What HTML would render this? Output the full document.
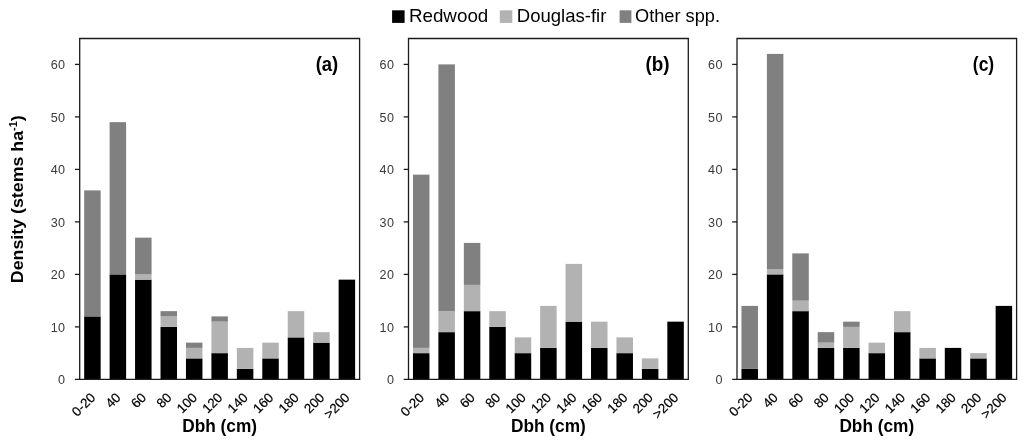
<!DOCTYPE html>
<html><head><meta charset="utf-8"><title>Density by Dbh</title>
<style>html,body{margin:0;padding:0;background:#fff}svg{display:block;will-change:transform;transform:translateZ(0)}text{font-family:"Liberation Sans",sans-serif}</style></head><body>
<svg width="1024" height="442" viewBox="0 0 1024 442">
<rect width="1024" height="442" fill="#ffffff"/>
<rect x="392.1" y="10.3" width="12.5" height="12.6" fill="#000000"/>
<text x="408.9" y="21.5" font-size="18.1" fill="#000" textLength="79.4" lengthAdjust="spacingAndGlyphs">Redwood</text>
<rect x="499.8" y="10.3" width="12.5" height="12.6" fill="#b2b2b2"/>
<text x="516.8" y="21.5" font-size="18.1" fill="#000" textLength="89.6" lengthAdjust="spacingAndGlyphs">Douglas-fir</text>
<rect x="619.6" y="10.3" width="11.8" height="12.6" fill="#808080"/>
<text x="635.0" y="21.5" font-size="18.1" fill="#000" textLength="85.0" lengthAdjust="spacingAndGlyphs">Other spp.</text>
<text transform="translate(22.7,283.2) rotate(-90)" font-size="17" font-weight="bold" fill="#000" textLength="168" lengthAdjust="spacingAndGlyphs">Density (stems ha<tspan font-size="10.5" dy="-6">-1</tspan><tspan dy="6">)</tspan></text>
<rect x="84.17" y="316.40" width="16.5" height="63.00" fill="#000000"/>
<rect x="84.17" y="190.40" width="16.5" height="126.00" fill="#808080"/>
<rect x="109.62" y="274.40" width="16.5" height="105.00" fill="#000000"/>
<rect x="109.62" y="122.15" width="16.5" height="152.25" fill="#808080"/>
<rect x="135.06" y="279.65" width="16.5" height="99.75" fill="#000000"/>
<rect x="135.06" y="274.40" width="16.5" height="5.25" fill="#b2b2b2"/>
<rect x="135.06" y="237.65" width="16.5" height="36.75" fill="#808080"/>
<rect x="160.51" y="326.90" width="16.5" height="52.50" fill="#000000"/>
<rect x="160.51" y="316.40" width="16.5" height="10.50" fill="#b2b2b2"/>
<rect x="160.51" y="311.15" width="16.5" height="5.25" fill="#808080"/>
<rect x="185.95" y="358.40" width="16.5" height="21.00" fill="#000000"/>
<rect x="185.95" y="347.90" width="16.5" height="10.50" fill="#b2b2b2"/>
<rect x="185.95" y="342.65" width="16.5" height="5.25" fill="#808080"/>
<rect x="211.40" y="353.15" width="16.5" height="26.25" fill="#000000"/>
<rect x="211.40" y="321.65" width="16.5" height="31.50" fill="#b2b2b2"/>
<rect x="211.40" y="316.40" width="16.5" height="5.25" fill="#808080"/>
<rect x="236.85" y="368.90" width="16.5" height="10.50" fill="#000000"/>
<rect x="236.85" y="347.90" width="16.5" height="21.00" fill="#b2b2b2"/>
<rect x="262.29" y="358.40" width="16.5" height="21.00" fill="#000000"/>
<rect x="262.29" y="342.65" width="16.5" height="15.75" fill="#b2b2b2"/>
<rect x="287.74" y="337.40" width="16.5" height="42.00" fill="#000000"/>
<rect x="287.74" y="311.15" width="16.5" height="26.25" fill="#b2b2b2"/>
<rect x="313.18" y="342.65" width="16.5" height="36.75" fill="#000000"/>
<rect x="313.18" y="332.15" width="16.5" height="10.50" fill="#b2b2b2"/>
<rect x="338.63" y="279.65" width="16.5" height="99.75" fill="#000000"/>
<path d="M79.7 379.4 V38.5 H359.6 V379.4" fill="none" stroke="#1c1c1c" stroke-width="1.3"/>
<path d="M74.9 379.4 H360.25" fill="none" stroke="#1c1c1c" stroke-width="1.3"/>
<text x="65.4" y="384.40" font-size="12.6" fill="#3a3a3a" text-anchor="end" letter-spacing="0.3">0</text>
<path d="M74.9 326.9 H79.7" stroke="#1c1c1c" stroke-width="1.3"/>
<text x="65.4" y="331.90" font-size="12.6" fill="#3a3a3a" text-anchor="end" letter-spacing="0.3">10</text>
<path d="M74.9 274.4 H79.7" stroke="#1c1c1c" stroke-width="1.3"/>
<text x="65.4" y="279.40" font-size="12.6" fill="#3a3a3a" text-anchor="end" letter-spacing="0.3">20</text>
<path d="M74.9 221.89999999999998 H79.7" stroke="#1c1c1c" stroke-width="1.3"/>
<text x="65.4" y="226.90" font-size="12.6" fill="#3a3a3a" text-anchor="end" letter-spacing="0.3">30</text>
<path d="M74.9 169.39999999999998 H79.7" stroke="#1c1c1c" stroke-width="1.3"/>
<text x="65.4" y="174.40" font-size="12.6" fill="#3a3a3a" text-anchor="end" letter-spacing="0.3">40</text>
<path d="M74.9 116.89999999999998 H79.7" stroke="#1c1c1c" stroke-width="1.3"/>
<text x="65.4" y="121.90" font-size="12.6" fill="#3a3a3a" text-anchor="end" letter-spacing="0.3">50</text>
<path d="M74.9 64.39999999999998 H79.7" stroke="#1c1c1c" stroke-width="1.3"/>
<text x="65.4" y="69.40" font-size="12.6" fill="#3a3a3a" text-anchor="end" letter-spacing="0.3">60</text>
<text transform="translate(96.12,398.4) rotate(-45)" font-size="13.3" fill="#000" stroke="#000" stroke-width="0.2" text-anchor="end">0-20</text>
<text transform="translate(121.57,398.4) rotate(-45)" font-size="13.3" fill="#000" stroke="#000" stroke-width="0.2" text-anchor="end">40</text>
<text transform="translate(147.01,398.4) rotate(-45)" font-size="13.3" fill="#000" stroke="#000" stroke-width="0.2" text-anchor="end">60</text>
<text transform="translate(172.46,398.4) rotate(-45)" font-size="13.3" fill="#000" stroke="#000" stroke-width="0.2" text-anchor="end">80</text>
<text transform="translate(197.90,398.4) rotate(-45)" font-size="13.3" fill="#000" stroke="#000" stroke-width="0.2" text-anchor="end">100</text>
<text transform="translate(223.35,398.4) rotate(-45)" font-size="13.3" fill="#000" stroke="#000" stroke-width="0.2" text-anchor="end">120</text>
<text transform="translate(248.80,398.4) rotate(-45)" font-size="13.3" fill="#000" stroke="#000" stroke-width="0.2" text-anchor="end">140</text>
<text transform="translate(274.24,398.4) rotate(-45)" font-size="13.3" fill="#000" stroke="#000" stroke-width="0.2" text-anchor="end">160</text>
<text transform="translate(299.69,398.4) rotate(-45)" font-size="13.3" fill="#000" stroke="#000" stroke-width="0.2" text-anchor="end">180</text>
<text transform="translate(325.13,398.4) rotate(-45)" font-size="13.3" fill="#000" stroke="#000" stroke-width="0.2" text-anchor="end">200</text>
<text transform="translate(350.58,398.4) rotate(-45)" font-size="13.3" fill="#000" stroke="#000" stroke-width="0.2" text-anchor="end">&gt;200</text>
<text x="219.65" y="432.1" font-size="17.5" font-weight="bold" fill="#000" text-anchor="middle" textLength="74.8" lengthAdjust="spacingAndGlyphs">Dbh (cm)</text>
<text x="315.70" y="70.7" font-size="19.8" font-weight="bold" fill="#000" textLength="22.6" lengthAdjust="spacingAndGlyphs">(a)</text>
<rect x="412.97" y="353.15" width="16.5" height="26.25" fill="#000000"/>
<rect x="412.97" y="347.90" width="16.5" height="5.25" fill="#b2b2b2"/>
<rect x="412.97" y="174.65" width="16.5" height="173.25" fill="#808080"/>
<rect x="438.40" y="332.15" width="16.5" height="47.25" fill="#000000"/>
<rect x="438.40" y="311.15" width="16.5" height="21.00" fill="#b2b2b2"/>
<rect x="438.40" y="64.40" width="16.5" height="246.75" fill="#808080"/>
<rect x="463.84" y="311.15" width="16.5" height="68.25" fill="#000000"/>
<rect x="463.84" y="284.90" width="16.5" height="26.25" fill="#b2b2b2"/>
<rect x="463.84" y="242.90" width="16.5" height="42.00" fill="#808080"/>
<rect x="489.28" y="326.90" width="16.5" height="52.50" fill="#000000"/>
<rect x="489.28" y="311.15" width="16.5" height="15.75" fill="#b2b2b2"/>
<rect x="514.71" y="353.15" width="16.5" height="26.25" fill="#000000"/>
<rect x="514.71" y="337.40" width="16.5" height="15.75" fill="#b2b2b2"/>
<rect x="540.15" y="347.90" width="16.5" height="31.50" fill="#000000"/>
<rect x="540.15" y="305.90" width="16.5" height="42.00" fill="#b2b2b2"/>
<rect x="565.59" y="321.65" width="16.5" height="57.75" fill="#000000"/>
<rect x="565.59" y="263.90" width="16.5" height="57.75" fill="#b2b2b2"/>
<rect x="591.02" y="347.90" width="16.5" height="31.50" fill="#000000"/>
<rect x="591.02" y="321.65" width="16.5" height="26.25" fill="#b2b2b2"/>
<rect x="616.46" y="353.15" width="16.5" height="26.25" fill="#000000"/>
<rect x="616.46" y="337.40" width="16.5" height="15.75" fill="#b2b2b2"/>
<rect x="641.90" y="368.90" width="16.5" height="10.50" fill="#000000"/>
<rect x="641.90" y="358.40" width="16.5" height="10.50" fill="#b2b2b2"/>
<rect x="667.33" y="321.65" width="16.5" height="57.75" fill="#000000"/>
<path d="M408.5 379.4 V38.5 H688.3 V379.4" fill="none" stroke="#1c1c1c" stroke-width="1.3"/>
<path d="M403.7 379.4 H688.9499999999999" fill="none" stroke="#1c1c1c" stroke-width="1.3"/>
<text x="394.2" y="384.40" font-size="12.6" fill="#3a3a3a" text-anchor="end" letter-spacing="0.3">0</text>
<path d="M403.7 326.9 H408.5" stroke="#1c1c1c" stroke-width="1.3"/>
<text x="394.2" y="331.90" font-size="12.6" fill="#3a3a3a" text-anchor="end" letter-spacing="0.3">10</text>
<path d="M403.7 274.4 H408.5" stroke="#1c1c1c" stroke-width="1.3"/>
<text x="394.2" y="279.40" font-size="12.6" fill="#3a3a3a" text-anchor="end" letter-spacing="0.3">20</text>
<path d="M403.7 221.89999999999998 H408.5" stroke="#1c1c1c" stroke-width="1.3"/>
<text x="394.2" y="226.90" font-size="12.6" fill="#3a3a3a" text-anchor="end" letter-spacing="0.3">30</text>
<path d="M403.7 169.39999999999998 H408.5" stroke="#1c1c1c" stroke-width="1.3"/>
<text x="394.2" y="174.40" font-size="12.6" fill="#3a3a3a" text-anchor="end" letter-spacing="0.3">40</text>
<path d="M403.7 116.89999999999998 H408.5" stroke="#1c1c1c" stroke-width="1.3"/>
<text x="394.2" y="121.90" font-size="12.6" fill="#3a3a3a" text-anchor="end" letter-spacing="0.3">50</text>
<path d="M403.7 64.39999999999998 H408.5" stroke="#1c1c1c" stroke-width="1.3"/>
<text x="394.2" y="69.40" font-size="12.6" fill="#3a3a3a" text-anchor="end" letter-spacing="0.3">60</text>
<text transform="translate(424.92,398.4) rotate(-45)" font-size="13.3" fill="#000" stroke="#000" stroke-width="0.2" text-anchor="end">0-20</text>
<text transform="translate(450.35,398.4) rotate(-45)" font-size="13.3" fill="#000" stroke="#000" stroke-width="0.2" text-anchor="end">40</text>
<text transform="translate(475.79,398.4) rotate(-45)" font-size="13.3" fill="#000" stroke="#000" stroke-width="0.2" text-anchor="end">60</text>
<text transform="translate(501.23,398.4) rotate(-45)" font-size="13.3" fill="#000" stroke="#000" stroke-width="0.2" text-anchor="end">80</text>
<text transform="translate(526.66,398.4) rotate(-45)" font-size="13.3" fill="#000" stroke="#000" stroke-width="0.2" text-anchor="end">100</text>
<text transform="translate(552.10,398.4) rotate(-45)" font-size="13.3" fill="#000" stroke="#000" stroke-width="0.2" text-anchor="end">120</text>
<text transform="translate(577.54,398.4) rotate(-45)" font-size="13.3" fill="#000" stroke="#000" stroke-width="0.2" text-anchor="end">140</text>
<text transform="translate(602.97,398.4) rotate(-45)" font-size="13.3" fill="#000" stroke="#000" stroke-width="0.2" text-anchor="end">160</text>
<text transform="translate(628.41,398.4) rotate(-45)" font-size="13.3" fill="#000" stroke="#000" stroke-width="0.2" text-anchor="end">180</text>
<text transform="translate(653.85,398.4) rotate(-45)" font-size="13.3" fill="#000" stroke="#000" stroke-width="0.2" text-anchor="end">200</text>
<text transform="translate(679.28,398.4) rotate(-45)" font-size="13.3" fill="#000" stroke="#000" stroke-width="0.2" text-anchor="end">&gt;200</text>
<text x="548.40" y="432.1" font-size="17.5" font-weight="bold" fill="#000" text-anchor="middle" textLength="74.8" lengthAdjust="spacingAndGlyphs">Dbh (cm)</text>
<text x="645.40" y="70.7" font-size="19.8" font-weight="bold" fill="#000" textLength="24.1" lengthAdjust="spacingAndGlyphs">(b)</text>
<rect x="741.46" y="368.90" width="16.5" height="10.50" fill="#000000"/>
<rect x="741.46" y="305.90" width="16.5" height="63.00" fill="#808080"/>
<rect x="766.88" y="274.40" width="16.5" height="105.00" fill="#000000"/>
<rect x="766.88" y="269.15" width="16.5" height="5.25" fill="#b2b2b2"/>
<rect x="766.88" y="53.90" width="16.5" height="215.25" fill="#808080"/>
<rect x="792.30" y="311.15" width="16.5" height="68.25" fill="#000000"/>
<rect x="792.30" y="300.65" width="16.5" height="10.50" fill="#b2b2b2"/>
<rect x="792.30" y="253.40" width="16.5" height="47.25" fill="#808080"/>
<rect x="817.71" y="347.90" width="16.5" height="31.50" fill="#000000"/>
<rect x="817.71" y="342.65" width="16.5" height="5.25" fill="#b2b2b2"/>
<rect x="817.71" y="332.15" width="16.5" height="10.50" fill="#808080"/>
<rect x="843.13" y="347.90" width="16.5" height="31.50" fill="#000000"/>
<rect x="843.13" y="326.90" width="16.5" height="21.00" fill="#b2b2b2"/>
<rect x="843.13" y="321.65" width="16.5" height="5.25" fill="#808080"/>
<rect x="868.55" y="353.15" width="16.5" height="26.25" fill="#000000"/>
<rect x="868.55" y="342.65" width="16.5" height="10.50" fill="#b2b2b2"/>
<rect x="893.97" y="332.15" width="16.5" height="47.25" fill="#000000"/>
<rect x="893.97" y="311.15" width="16.5" height="21.00" fill="#b2b2b2"/>
<rect x="919.39" y="358.40" width="16.5" height="21.00" fill="#000000"/>
<rect x="919.39" y="347.90" width="16.5" height="10.50" fill="#b2b2b2"/>
<rect x="944.80" y="347.90" width="16.5" height="31.50" fill="#000000"/>
<rect x="970.22" y="358.40" width="16.5" height="21.00" fill="#000000"/>
<rect x="970.22" y="353.15" width="16.5" height="5.25" fill="#b2b2b2"/>
<rect x="995.64" y="305.90" width="16.5" height="73.50" fill="#000000"/>
<path d="M737.0 379.4 V38.5 H1016.6 V379.4" fill="none" stroke="#1c1c1c" stroke-width="1.3"/>
<path d="M732.2 379.4 H1017.25" fill="none" stroke="#1c1c1c" stroke-width="1.3"/>
<text x="722.7" y="384.40" font-size="12.6" fill="#3a3a3a" text-anchor="end" letter-spacing="0.3">0</text>
<path d="M732.2 326.9 H737.0" stroke="#1c1c1c" stroke-width="1.3"/>
<text x="722.7" y="331.90" font-size="12.6" fill="#3a3a3a" text-anchor="end" letter-spacing="0.3">10</text>
<path d="M732.2 274.4 H737.0" stroke="#1c1c1c" stroke-width="1.3"/>
<text x="722.7" y="279.40" font-size="12.6" fill="#3a3a3a" text-anchor="end" letter-spacing="0.3">20</text>
<path d="M732.2 221.89999999999998 H737.0" stroke="#1c1c1c" stroke-width="1.3"/>
<text x="722.7" y="226.90" font-size="12.6" fill="#3a3a3a" text-anchor="end" letter-spacing="0.3">30</text>
<path d="M732.2 169.39999999999998 H737.0" stroke="#1c1c1c" stroke-width="1.3"/>
<text x="722.7" y="174.40" font-size="12.6" fill="#3a3a3a" text-anchor="end" letter-spacing="0.3">40</text>
<path d="M732.2 116.89999999999998 H737.0" stroke="#1c1c1c" stroke-width="1.3"/>
<text x="722.7" y="121.90" font-size="12.6" fill="#3a3a3a" text-anchor="end" letter-spacing="0.3">50</text>
<path d="M732.2 64.39999999999998 H737.0" stroke="#1c1c1c" stroke-width="1.3"/>
<text x="722.7" y="69.40" font-size="12.6" fill="#3a3a3a" text-anchor="end" letter-spacing="0.3">60</text>
<text transform="translate(753.41,398.4) rotate(-45)" font-size="13.3" fill="#000" stroke="#000" stroke-width="0.2" text-anchor="end">0-20</text>
<text transform="translate(778.83,398.4) rotate(-45)" font-size="13.3" fill="#000" stroke="#000" stroke-width="0.2" text-anchor="end">40</text>
<text transform="translate(804.25,398.4) rotate(-45)" font-size="13.3" fill="#000" stroke="#000" stroke-width="0.2" text-anchor="end">60</text>
<text transform="translate(829.66,398.4) rotate(-45)" font-size="13.3" fill="#000" stroke="#000" stroke-width="0.2" text-anchor="end">80</text>
<text transform="translate(855.08,398.4) rotate(-45)" font-size="13.3" fill="#000" stroke="#000" stroke-width="0.2" text-anchor="end">100</text>
<text transform="translate(880.50,398.4) rotate(-45)" font-size="13.3" fill="#000" stroke="#000" stroke-width="0.2" text-anchor="end">120</text>
<text transform="translate(905.92,398.4) rotate(-45)" font-size="13.3" fill="#000" stroke="#000" stroke-width="0.2" text-anchor="end">140</text>
<text transform="translate(931.34,398.4) rotate(-45)" font-size="13.3" fill="#000" stroke="#000" stroke-width="0.2" text-anchor="end">160</text>
<text transform="translate(956.75,398.4) rotate(-45)" font-size="13.3" fill="#000" stroke="#000" stroke-width="0.2" text-anchor="end">180</text>
<text transform="translate(982.17,398.4) rotate(-45)" font-size="13.3" fill="#000" stroke="#000" stroke-width="0.2" text-anchor="end">200</text>
<text transform="translate(1007.59,398.4) rotate(-45)" font-size="13.3" fill="#000" stroke="#000" stroke-width="0.2" text-anchor="end">&gt;200</text>
<text x="876.80" y="432.1" font-size="17.5" font-weight="bold" fill="#000" text-anchor="middle" textLength="74.8" lengthAdjust="spacingAndGlyphs">Dbh (cm)</text>
<text x="972.80" y="70.7" font-size="19.8" font-weight="bold" fill="#000" textLength="21.4" lengthAdjust="spacingAndGlyphs">(c)</text>
</svg></body></html>
